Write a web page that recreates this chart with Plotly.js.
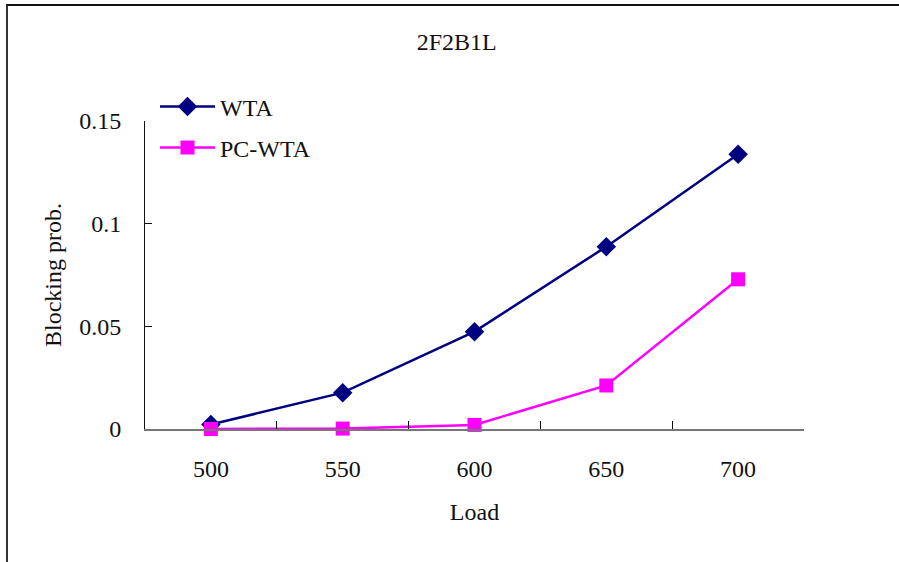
<!DOCTYPE html>
<html>
<head>
<meta charset="utf-8">
<script src="https://cdn.plot.ly/plotly-3.0.1.min.js"></script>
<style>
html,body{margin:0;padding:0;background:#fff;}
#wrap{position:relative;width:899px;height:562px;overflow:hidden;}
#chart{position:absolute;left:0;top:0;width:899px;height:562px;}
#frame{position:absolute;left:6px;top:4px;width:900px;height:600px;border-left:2px solid #333;border-top:2px solid #111;pointer-events:none;}
</style>
</head>
<body>
<div id="wrap"><div id="chart"></div><div id="frame"></div></div>
<script>
const loads = ["500", "550", "600", "650", "700"];
const wta = [0.0022, 0.0177, 0.0474, 0.0888, 0.1338];
const pcwta = [0.0, 0.0002, 0.0020, 0.0212, 0.0729];

const FONT = "'Liberation Serif', 'Times New Roman', serif";

const traces = [
  {x: loads, y: wta, name: "WTA", type: "scatter", mode: "lines+markers",
   line: {color: "#000080", width: 2.5},
   marker: {symbol: "diamond", size: 15, color: "#000080"},
   legend: "legend", cliponaxis: false},
  {x: loads, y: pcwta, name: "PC-WTA", type: "scatter", mode: "lines+markers",
   line: {color: "#FF00FF", width: 2.5},
   marker: {symbol: "square", size: 14, color: "#FF00FF"},
   legend: "legend2", cliponaxis: false}
];

const legendCommon = {
  font: {family: FONT, size: 24, color: "#111"},
  bgcolor: "rgba(0,0,0,0)", borderwidth: 0,
  xref: "paper", yref: "paper",
  xanchor: "left", yanchor: "middle", itemwidth: 55
};

const layout = {
  width: 899, height: 562,
  margin: {l: 145, r: 95, t: 121, b: 133, autoexpand: false},
  paper_bgcolor: "#fff", plot_bgcolor: "#fff",
  font: {family: FONT, size: 24, color: "#111"},
  title: {text: "2F2B1L", font: {family: FONT, size: 24, color: "#111"},
          xref: "container", yref: "container", x: 0.508, y: 1 - 42/562,
          xanchor: "center", yanchor: "middle"},
  xaxis: {
    type: "category", automargin: false, range: [-0.5, 4.5],
    showline: true, linecolor: "#777", linewidth: 1.5,
    ticks: "inside", tickson: "boundaries", ticklen: 8, tickcolor: "#111", tickwidth: 1,
    showgrid: false, zeroline: false,
    ticklabelstandoff: 18,
    tickfont: {family: FONT, size: 24, color: "#111"},
    title: {text: "Load", font: {family: FONT, size: 24, color: "#111"}, standoff: 22}
  },
  yaxis: {
    range: [0, 0.15], dtick: 0.05, tick0: 0, automargin: false,
    showline: true, linecolor: "#111", linewidth: 1,
    ticks: "inside", ticklen: 7, tickcolor: "#111",
    showgrid: false, zeroline: false,
    ticklabelstandoff: 18,
    tickfont: {family: FONT, size: 24, color: "#111"},
    title: {text: "Blocking prob.", font: {family: FONT, size: 24, color: "#111"}, standoff: 10}
  },
  showlegend: true,
  legend: Object.assign({}, legendCommon, {x: (155 - 145) / 659, y: (429 - 107) / 308}),
  legend2: Object.assign({}, legendCommon, {x: (155 - 145) / 659, y: (429 - 148) / 308})
};

Plotly.newPlot("chart", traces, layout, {displayModeBar: false, staticPlot: true});
</script>
</body>
</html>
